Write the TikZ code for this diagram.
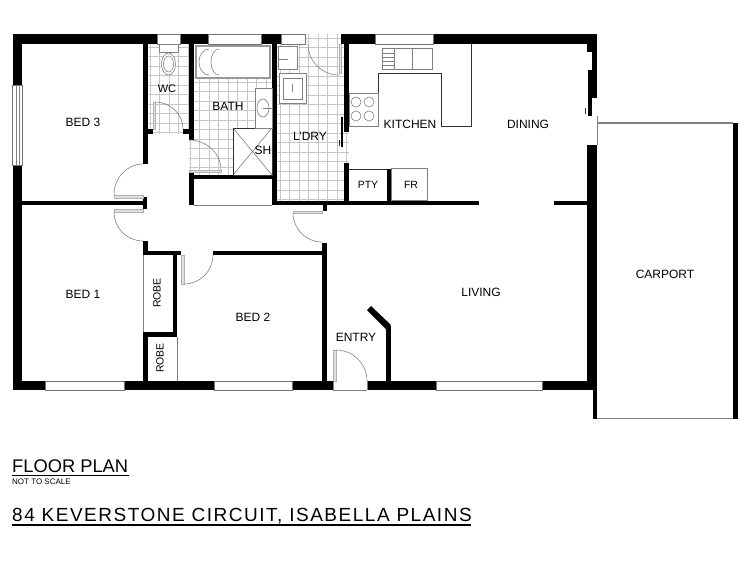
\documentclass[tikz,border=0pt]{standalone}
\usepackage{fontspec}
\setmainfont{Liberation Sans}
\begin{document}
\begin{tikzpicture}[x=1pt, y=-1pt]
  \useasboundingbox (0, 0) rectangle (750, 563);
  \tikzstyle{wall}=[fill=black]
  \tikzstyle{tile}=[draw=black!22, line width=0.5pt]
  \tikzstyle{fitting}=[draw=black!50, line width=0.6pt]
  \tikzstyle{thick fitting}=[draw=black!40, line width=2.5pt]
  \tikzstyle{counter}=[draw=black!80, line width=0.7pt]
  \tikzstyle{leaf}=[draw=black!30, line width=0.5pt, fill=black!12]
  \tikzstyle{swing}=[draw=black!50, line width=0.6pt]
  \tikzstyle{glass}=[draw=black!55, line width=0.6pt, fill=white]
  \tikzstyle{room}=[font=\fontsize{12}{12}\selectfont, inner sep=0pt]
  \tikzstyle{small room}=[font=\fontsize{10.5}{10.5}\selectfont, inner sep=0pt]

  % Tiles
  \begin{scope}
    \clip (148, 44) rectangle (189, 129) (153, 129) rectangle (183, 134);
    \draw[tile] \foreach \x in {150,159.5,...,190} {(\x, 40) -- (\x, 135)};
    \draw[tile] \foreach \y in {47,56.5,...,135} {(145, \y) -- (190, \y)};
  \end{scope}
  \begin{scope}
    \clip (194, 79) rectangle (272, 175) (189, 140) rectangle (194, 171);
    \draw[tile] \foreach \x in {190,199.5,...,275} {(\x, 75) -- (\x, 176)};
    \draw[tile] \foreach \y in {82,91.5,...,176} {(188, \y) -- (274, \y)};
  \end{scope}
  \begin{scope}
    \clip (277, 44) rectangle (344, 201) (305, 34) rectangle (341, 44) (344, 132) rectangle (349, 163);
    \draw[tile] \foreach \x in {280,289.5,...,350} {(\x, 33) -- (\x, 202)};
    \draw[tile] \foreach \y in {38,47.5,...,202} {(276, \y) -- (350, \y)};
  \end{scope}

  % Outer walls
  \fill[wall] (13, 34) rectangle (157, 44);
  \fill[wall] (180, 34) rectangle (208, 44);
  \fill[wall] (261, 34) rectangle (281, 44);
  \fill[wall] (341, 34) rectangle (375, 44);
  \fill[wall] (433, 34) rectangle (597, 44);
  \fill[wall] (13, 34) rectangle (22, 85);
  \fill[wall] (13, 165) rectangle (22, 390);
  \fill[wall] (587, 34) rectangle (597, 52);
  \fill[wall] (592, 52) rectangle (597, 98);
  \fill[wall] (588, 70) rectangle (592, 116);
  \fill[wall] (587, 145) rectangle (597, 390);
  \fill[wall] (593, 390) rectangle (597, 419);
  \fill[wall] (13, 381) rectangle (45, 390);
  \fill[wall] (124, 381) rectangle (214, 390);
  \fill[wall] (292, 381) rectangle (333, 390);
  \fill[wall] (367, 381) rectangle (437, 390);
  \fill[wall] (542, 381) rectangle (597, 390);

  % Inner walls
  \fill[wall] (143, 44) rectangle (148, 164);
  \fill[wall] (148, 129) rectangle (153, 134);
  \fill[wall] (189, 44) rectangle (194, 140);
  \fill[wall] (183, 129) rectangle (189, 134);
  \fill[wall] (189, 171) rectangle (194, 205);
  \fill[wall] (189, 175) rectangle (277, 179);
  \fill[wall] (272, 44) rectangle (277, 205);
  \fill[wall] (272, 201) rectangle (479, 205);
  \fill[wall] (554, 201) rectangle (587, 205);
  \fill[wall] (323, 205) rectangle (327, 211);
  \fill[wall] (344, 44) rectangle (349, 132);
  \fill[wall] (344, 163) rectangle (349, 201);
  \fill[wall] (341, 117) rectangle (343, 147);
  \fill[wall] (387, 169) rectangle (391, 201);
  \fill[wall] (22, 201) rectangle (143, 205);
  \fill[wall] (143, 197) rectangle (147, 209);
  \fill[wall] (143, 241) rectangle (148, 255);
  \fill[wall] (143, 332) rectangle (148, 381);
  \fill[wall] (143, 251) rectangle (181, 255);
  \fill[wall] (213, 251) rectangle (327, 255);
  \fill[wall] (322, 243) rectangle (327, 381);
  \fill[wall] (173, 255) rectangle (177, 337);
  \fill[wall] (143, 332) rectangle (177, 337);
  \fill[wall] (386, 326) rectangle (391, 381);
  \fill[wall] (386, 329) -- (391, 325) -- (371, 306) -- (367, 310) -- cycle;

  % Windows
  \draw[glass] (12, 85) rectangle (22, 165);
  \draw[fitting] (16, 85) -- (16, 165) (19, 85) -- (19, 165);
  \draw[glass] (157, 34) rectangle (180, 44);
  \draw[glass] (208, 34) rectangle (261, 44);
  \draw[glass] (281, 34) rectangle (305, 44);
  \draw[glass] (375, 34) rectangle (433, 44);
  \draw[glass] (45, 381) rectangle (124, 390);
  \draw[glass] (214, 381) rectangle (292, 390);
  \draw[glass] (436, 381) rectangle (542, 390);

  % Doors
  \draw[leaf] (114, 195) rectangle (143, 198);
  \draw[swing] (114, 195) arc (180:270:29 and 31);
  \draw[leaf] (114, 209) rectangle (143, 212);
  \draw[swing] (114, 212) arc (180:90:29);
  \draw[leaf] (153, 102) rectangle (155, 129);
  \draw[swing] (155, 102) arc (270:360:28 and 27);
  \draw[leaf] (189, 170) rectangle (221, 172);
  \draw[swing] (189, 140) arc (270:360:32 and 30);
  \draw[leaf] (339, 44) rectangle (341, 73);
  \draw[swing] (308, 44) arc (180:90:31);
  \draw[leaf] (293, 211) rectangle (322, 213);
  \draw[swing] (293, 213) arc (180:90:29);
  \draw[leaf] (181, 255) rectangle (184, 284);
  \draw[swing] (184, 284) arc (90:0:29);
  \draw[leaf] (333, 350) rectangle (336, 381);
  \draw[swing] (336, 350) arc (270:360:31);
  \draw[swing] (333, 390) -- (367, 390) (333, 381) -- (333, 390) (367, 381) -- (367, 390);

  % Openings and thin walls
  \draw[fitting] (143, 255) -- (143, 332);
  \draw[fitting] (177, 337) -- (177, 381);
  \draw[fitting] (194, 205) -- (272, 205);
  \draw[fitting] (597, 116) -- (597, 145);
  \draw[counter] (349, 169) -- (387, 169);
  \draw[counter] (339, 140) -- (339, 146) (585, 108) -- (585, 114);

  % Carport
  \draw[draw=black!50, line width=1.2pt] (597, 123) -- (733, 123);
  \draw[draw=black!50, line width=1.2pt] (597, 418.5) -- (733, 418.5);
  \fill[wall] (733, 123) rectangle (738, 419);

  % Bath, shower, vanity
  \draw[thick fitting] (196, 46) rectangle (270, 78);
  \draw[fitting] (209, 49) arc (270:90:10 and 13) (219, 49) arc (270:90:8 and 13);
  \draw[fitting, fill=white] (233, 128) rectangle (272, 175);
  \draw[fitting] (233, 128) -- (272, 175) (233, 175) -- (272, 128);
  \draw[counter] (233, 128) rectangle (272, 175);
  \draw[fitting, fill=white] (255, 88) rectangle (272, 128);
  \draw[fitting] (263, 108) ellipse (6 and 9);
  \draw[fitting] (263, 108) -- (272, 108);

  % Toilet
  \draw[fitting, fill=white] (159, 44) rectangle (178, 52);
  \draw[fitting, fill=white] (168.5, 64) ellipse (7 and 11);
  \draw[fitting] (168.5, 64) ellipse (5 and 8);

  % Laundry
  \draw[fitting, fill=white] (278, 46) rectangle (297, 69);
  \draw[fitting] (278, 59) -- (288, 59);
  \draw[fitting, fill=white] (279, 73) rectangle (306, 103);
  \draw[fitting] (283, 78) rectangle (302, 99);
  \draw[fitting] (292, 84) -- (292, 92);

  % Kitchen
  \draw[counter] (471, 44) -- (471, 126) -- (441, 126) -- (441, 73) -- (378, 73) -- (378, 126);
  \draw[fitting] (349, 93) rectangle (378, 126);
  \foreach \x in {356, 369} {
    \foreach \y in {102, 116} {
      \draw[fitting] (\x, \y) circle (5);
    }
  }
  \draw[fitting] (382, 48) rectangle (432, 69);
  \draw[fitting] (394, 48) -- (394, 69) (412, 48) -- (412, 69);
  \draw[fitting] \foreach \y in {53,57,...,66} {(383, \y) -- (394, \y)};
  \draw[fitting] (391, 168) rectangle (427, 200);

  % Room names
  \node[room] (bed3) at (83, 122) {BED 3};
  \node[room] (wc) at (167, 89) {\fontsize{11}{11}\selectfont WC};
  \node[room] (bath) at (228, 106) {BATH};
  \node[room] (laundry) at (310, 136) {L'DRY};
  \node[room] (shower) at (263, 150) {SH};
  \node[room] (kitchen) at (410, 124) {KITCHEN};
  \node[room] (dining) at (528, 124) {DINING};
  \node[small room] (pantry) at (368, 185) {PTY};
  \node[small room] (fridge) at (411, 185) {FR};
  \node[room] (bed1) at (83, 294) {BED 1};
  \node[room] (bed2) at (253, 317) {BED 2};
  \node[small room, rotate=90] (robea) at (157, 293) {ROBE};
  \node[small room, rotate=90] (robeb) at (160, 358) {ROBE};
  \node[room] (entry) at (356, 337) {ENTRY};
  \node[room] (living) at (481, 292) {LIVING};
  \node[room] (carport) at (665, 274) {CARPORT};

  % Title block
  \node[anchor=base west, inner sep=0pt, font=\fontsize{18.3}{18.3}\selectfont] (plan) at (12, 472) {FLOOR PLAN};
  \node[anchor=base west, inner sep=0pt, font=\fontsize{8}{8}\selectfont] (scale) at (12, 484) {NOT TO SCALE};
  \node[anchor=base west, inner sep=0pt, font=\fontsize{19}{19}\selectfont\addfontfeature{LetterSpace=8}] (address) at (12, 521) {84 KEVERSTONE CIRCUIT, ISABELLA PLAINS};
  \draw[line width=1pt] (12, 475) -- (129, 475);
  \draw[line width=1.6pt] (12, 525) -- (471, 525);
\end{tikzpicture}
\end{document}
